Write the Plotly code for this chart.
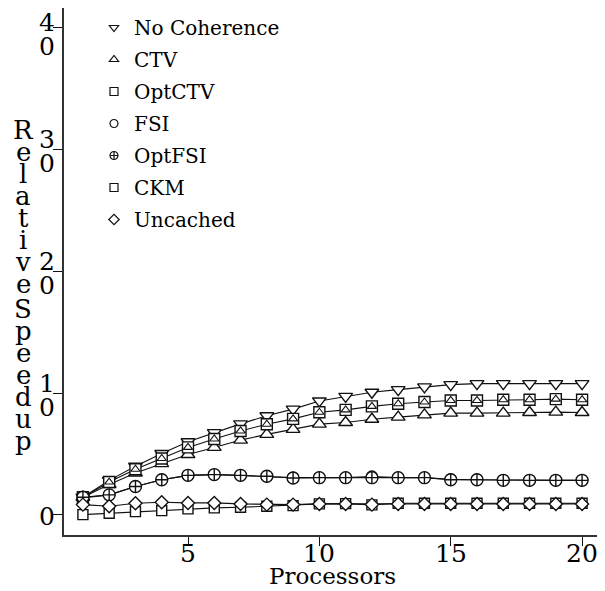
import plotly.graph_objects as go

# ---- data ----
processors = list(range(1, 21))
no_coherence = [1.46, 2.84, 4.00, 5.04, 6.00, 6.75, 7.47, 8.13, 8.68, 9.35,
                9.72, 10.06, 10.28, 10.50, 10.69, 10.77, 10.77, 10.77, 10.77, 10.77]
ctv = [1.46, 2.50, 3.44, 4.21, 4.96, 5.54, 6.14, 6.61, 7.02, 7.45,
       7.58, 7.85, 8.02, 8.21, 8.35, 8.35, 8.35, 8.40, 8.43, 8.40]
opt_ctv = [1.46, 2.70, 3.75, 4.63, 5.54, 6.23, 6.89, 7.44, 7.88, 8.42,
           8.62, 8.90, 9.12, 9.26, 9.39, 9.39, 9.45, 9.45, 9.50, 9.45]
fsi = [1.40, 1.65, 2.34, 2.89, 3.25, 3.31, 3.25, 3.17, 3.06, 3.06,
       3.06, 3.15, 3.06, 3.06, 2.92, 2.89, 2.86, 2.84, 2.84, 2.84]
opt_fsi = [1.46, 1.65, 2.34, 2.89, 3.25, 3.31, 3.25, 3.17, 3.03, 3.06,
           3.06, 3.06, 3.06, 3.06, 2.89, 2.89, 2.84, 2.84, 2.84, 2.84]
ckm = [0.03, 0.14, 0.28, 0.36, 0.50, 0.58, 0.63, 0.72, 0.77, 0.91,
       0.93, 0.83, 0.96, 0.96, 0.96, 0.96, 0.96, 0.96, 0.96, 0.96]
uncached = [0.85, 0.72, 0.96, 1.05, 0.99, 0.99, 0.91, 0.85, 0.85, 0.91,
            0.91, 0.85, 0.91, 0.91, 0.91, 0.91, 0.91, 0.91, 0.91, 0.91]

series_names = ["No Coherence", "CTV", "OptCTV", "FSI", "OptFSI", "CKM", "Uncached"]
series_values = [no_coherence, ctv, opt_ctv, fsi, opt_fsi, ckm, uncached]
x_tick_values = [5, 10, 15, 20]
y_tick_values = [0, 10, 20, 30, 40]
x_title = "Processors"
y_title_words = ["Relative", "Speedup"]

# ---- styles ----
symbols = ["triangle-down", "triangle-up", "square", "circle", "circle-cross", "square", "diamond"]
sizes = [12, 12, 11, 11, 12, 10, 10]
legend_size = 8
SERIF = "DejaVu Serif"
INK = "#111"

fig = go.Figure()
for name, vals, sym, sz in zip(series_names, series_values, symbols, sizes):
    fig.add_trace(go.Scatter(
        x=processors, y=vals, mode="lines+markers", name=name,
        legendgroup=name, showlegend=False,
        line=dict(color=INK, width=1.1),
        marker=dict(symbol=sym, size=sz, color="white",
                    line=dict(color=INK, width=1.4)),
    ))
    if name == "OptCTV":
        fig.add_trace(go.Scatter(
            x=processors, y=vals, mode="markers", name=name,
            legendgroup=name, showlegend=False,
            marker=dict(symbol="triangle-up-open", size=8, color=INK,
                        line=dict(color=INK, width=1.1)),
        ))

for name, sym in zip(series_names, symbols):
    fig.add_trace(go.Scatter(
        x=[None], y=[None], mode="markers", name=name, legendgroup=name,
        marker=dict(symbol=sym, size=legend_size, color="white",
                    line=dict(color=INK, width=1.2)),
    ))

# figure geometry (the page body adds an 8 px offset)
W, H = 597, 583
ML, MR, MT, MB = 56, 4, 0, 56
pw, ph = W - ML - MR, H - MT - MB


def px_to_paper_x(px):
    return (px - ML) / pw


def px_to_paper_y(py):
    return (H - MB - py) / ph


annotations = []
tick_font = dict(family=SERIF, size=25, color="black")
# stacked y tick labels
for v in y_tick_values:
    s = str(v)
    top_shift = -12 if v == max(y_tick_values) else -7
    low_shift = -3 if v == max(y_tick_values) else 2
    if len(s) == 1:
        annotations.append(dict(text=s, xref="paper", yref="y", x=px_to_paper_x(39), y=v,
                                xanchor="center", yanchor="middle", yshift=-2,
                                showarrow=False, font=tick_font))
    else:
        annotations.append(dict(text=s[0], xref="paper", yref="y", x=px_to_paper_x(39), y=v,
                                xanchor="center", yanchor="bottom", yshift=top_shift,
                                showarrow=False, font=tick_font))
        annotations.append(dict(text=s[1], xref="paper", yref="y", x=px_to_paper_x(39), y=v,
                                xanchor="center", yanchor="top", yshift=low_shift,
                                showarrow=False, font=tick_font))

# x tick labels
for v in x_tick_values:
    annotations.append(dict(text=str(v), xref="x", yref="paper", x=v,
                            y=px_to_paper_y(529), xanchor="center", yanchor="top",
                            showarrow=False, font=tick_font))

# stacked y title letters (one letter per row)
title_font = dict(family=SERIF, size=26, color="black")
word_starts = [122, 301]
for start, word in zip(word_starts, y_title_words):
    for i, ch in enumerate(word):
        annotations.append(dict(text=ch, xref="paper", yref="paper",
                                x=px_to_paper_x(15), y=px_to_paper_y(start + 22 * i),
                                xanchor="center", yanchor="middle", showarrow=False,
                                font=title_font))

# x axis title
annotations.append(dict(text=x_title, xref="paper", yref="paper", x=0.5,
                        y=px_to_paper_y(568), xanchor="center", yanchor="middle",
                        showarrow=False, font=dict(family=SERIF, size=23, color="black")))

fig.update_layout(
    width=W, height=H,
    margin=dict(l=ML, r=MR, t=MT, b=MB, autoexpand=False),
    paper_bgcolor="white", plot_bgcolor="white",
    font=dict(family=SERIF, color="black"),
    xaxis=dict(range=[0.28, 20.72], tickvals=x_tick_values, showticklabels=False,
               ticks="outside", ticklen=9,
               tickcolor=INK, tickwidth=1.3, showline=True, mirror=True,
               linecolor="#333", linewidth=1.6, showgrid=False, zeroline=False,
               automargin=False),
    yaxis=dict(range=[-1.64, 41.56], tickvals=y_tick_values, showticklabels=False,
               ticks="outside", ticklen=9, tickcolor=INK, tickwidth=1.3,
               showline=True, mirror=True, linecolor="#333", linewidth=1.6,
               showgrid=False, zeroline=False, automargin=False),
    legend=dict(x=px_to_paper_x(86), y=1.0, xanchor="left", yanchor="top",
                font=dict(family=SERIF, size=20, color="black"),
                bgcolor="rgba(0,0,0,0)", traceorder="grouped", tracegroupgap=3),
    annotations=annotations,
)

fig.write_html("out.html")
